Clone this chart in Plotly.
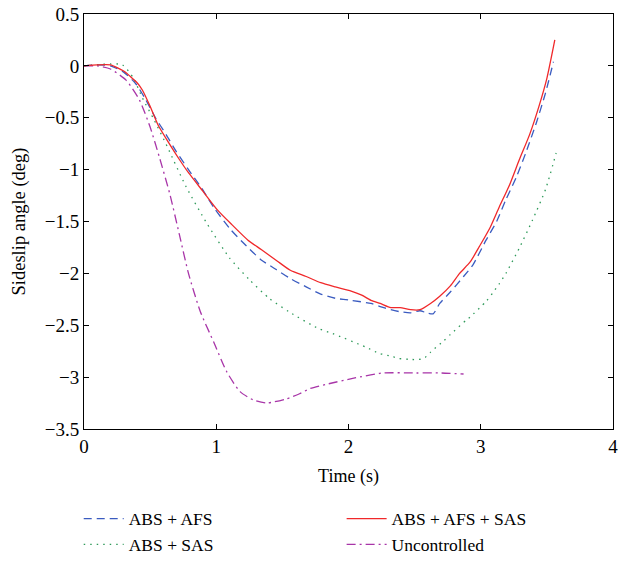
import plotly.graph_objects as go

# ABS + AFS (blue dashed)
t_afs = [0, 0.1, 0.2, 0.3, 0.39, 0.46, 0.54, 0.62, 0.69, 0.79, 0.89, 0.99, 1.11, 1.2, 1.34, 1.45,
         1.56, 1.68, 1.79, 1.9, 2.02, 2.17, 2.24, 2.32, 2.39, 2.47, 2.54, 2.59, 2.64, 2.69, 2.77,
         2.87, 2.94, 3.04, 3.12, 3.19, 3.27, 3.34, 3.42, 3.49, 3.55]
y_afs = [0, 0.01, 0.0, -0.06, -0.17, -0.31, -0.5, -0.66, -0.81, -1.0, -1.18, -1.38, -1.58, -1.7,
         -1.87, -1.96, -2.05, -2.13, -2.2, -2.24, -2.26, -2.29, -2.32, -2.35, -2.37, -2.38, -2.36,
         -2.38, -2.39, -2.29, -2.18, -2.03, -1.92, -1.68, -1.5, -1.29, -1.07, -0.84, -0.55, -0.26, 0.04]

# ABS + AFS + SAS (red solid)
t_all = [0, 0.1, 0.2, 0.3, 0.4, 0.44, 0.5, 0.56, 0.64, 0.72, 0.79, 0.9, 1.01, 1.11, 1.24, 1.34,
         1.46, 1.56, 1.68, 1.79, 1.9, 2.02, 2.1, 2.17, 2.24, 2.32, 2.39, 2.47, 2.54, 2.62, 2.69,
         2.77, 2.84, 2.92, 2.99, 3.07, 3.14, 3.22, 3.29, 3.37, 3.44, 3.5, 3.56]
y_all = [0, 0.01, 0.01, -0.05, -0.16, -0.23, -0.39, -0.57, -0.74, -0.9, -1.03, -1.21, -1.39, -1.52,
         -1.68, -1.77, -1.88, -1.97, -2.03, -2.09, -2.13, -2.17, -2.21, -2.26, -2.29, -2.33, -2.33,
         -2.35, -2.35, -2.29, -2.22, -2.12, -2.0, -1.89, -1.74, -1.56, -1.36, -1.14, -0.91, -0.66,
         -0.39, -0.12, 0.25]

# ABS + SAS (green dotted)
t_sas = [0, 0.1, 0.2, 0.29, 0.37, 0.45, 0.53, 0.63, 0.77, 0.93, 1.1, 1.25, 1.4, 1.55, 1.77, 1.88,
         2.13, 2.23, 2.33, 2.38, 2.48, 2.53, 2.57, 2.62, 2.72, 2.77, 2.89, 2.92, 3.04, 3.09, 3.14,
         3.19, 3.29, 3.39, 3.49, 3.57]
y_sas = [0, 0.01, 0.02, 0.01, -0.11, -0.33, -0.52, -0.78, -1.16, -1.52, -1.85, -2.06, -2.24, -2.37,
         -2.53, -2.58, -2.71, -2.77, -2.8, -2.82, -2.83, -2.83, -2.82, -2.76, -2.65, -2.59, -2.45,
         -2.42, -2.27, -2.19, -2.1, -2.0, -1.76, -1.49, -1.19, -0.84]

# Uncontrolled (purple dash-dot)
t_unc = [0, 0.1, 0.2, 0.32, 0.42, 0.5, 0.57, 0.65, 0.72, 0.79, 0.88, 0.98, 1.08, 1.18, 1.28, 1.38,
         1.53, 1.63, 1.71, 1.83, 2.04, 2.26, 2.51, 2.7, 2.87]
y_unc = [0, 0.0, -0.03, -0.14, -0.33, -0.59, -0.88, -1.24, -1.62, -2.0, -2.37, -2.66, -2.95, -3.14,
         -3.22, -3.25, -3.21, -3.16, -3.11, -3.07, -3.01, -2.96, -2.96, -2.96, -2.97]

font_family = "Liberation Serif"

fig = go.Figure()
fig.add_trace(go.Scatter(x=t_afs, y=y_afs, mode="lines", name="ABS + AFS",
                         line=dict(color="#3a5bc0", width=1.3, dash="8px,5px", shape="spline", smoothing=0.6),
                         legend="legend", legendgroup="a"))
fig.add_trace(go.Scatter(x=t_sas, y=y_sas, mode="lines", name="ABS + SAS",
                         line=dict(color="#2f9a5a", width=1.3, dash="1.5px,5px", shape="spline", smoothing=0.6),
                         legend="legend", legendgroup="b"))
fig.add_trace(go.Scatter(x=t_unc, y=y_unc, mode="lines", name="Uncontrolled",
                         line=dict(color="#a835a8", width=1.3, dash="9px,4px,2px,4px", shape="spline", smoothing=0.6),
                         legend="legend2", legendgroup="d"))
fig.add_trace(go.Scatter(x=t_all, y=y_all, mode="lines", name="ABS + AFS + SAS",
                         line=dict(color="#f0282a", width=1.3, shape="spline", smoothing=0.6),
                         legend="legend2", legendgroup="c"))

axis_common = dict(showline=True, linecolor="black", linewidth=1, mirror="ticks",
                   ticks="inside", ticklen=5, tickcolor="black", showgrid=False,
                   zeroline=False, ticklabeloverflow="allow", automargin=False,
                   tickfont=dict(family=font_family, size=19, color="black"))

fig.update_layout(
    width=618, height=563,
    margin=dict(l=84, r=5, t=14, b=134, autoexpand=False),
    paper_bgcolor="white", plot_bgcolor="white",
    font=dict(family=font_family, size=18, color="black"),
    xaxis=dict(range=[0, 4], dtick=1, ticklabelstandoff=0,
               title=dict(text="Time (s)", standoff=13, font=dict(size=18)), **axis_common),
    yaxis=dict(range=[-3.5, 0.5], dtick=0.5, ticklabelstandoff=0,
               title=dict(text="Sideslip angle (deg)", standoff=14, font=dict(size=18.5)),
               **axis_common),
    legend=dict(x=-0.01, y=-0.173, xanchor="left", yanchor="top", orientation="v",
                tracegroupgap=16, traceorder="normal", bgcolor="rgba(0,0,0,0)", itemwidth=40,
                font=dict(family=font_family, size=17.5)),
    legend2=dict(x=0.487, y=-0.173, xanchor="left", yanchor="top", orientation="v",
                 tracegroupgap=16, traceorder="reversed", bgcolor="rgba(0,0,0,0)", itemwidth=40,
                 font=dict(family=font_family, size=17.5)),
    showlegend=True,
)

fig.write_html("out.html")
